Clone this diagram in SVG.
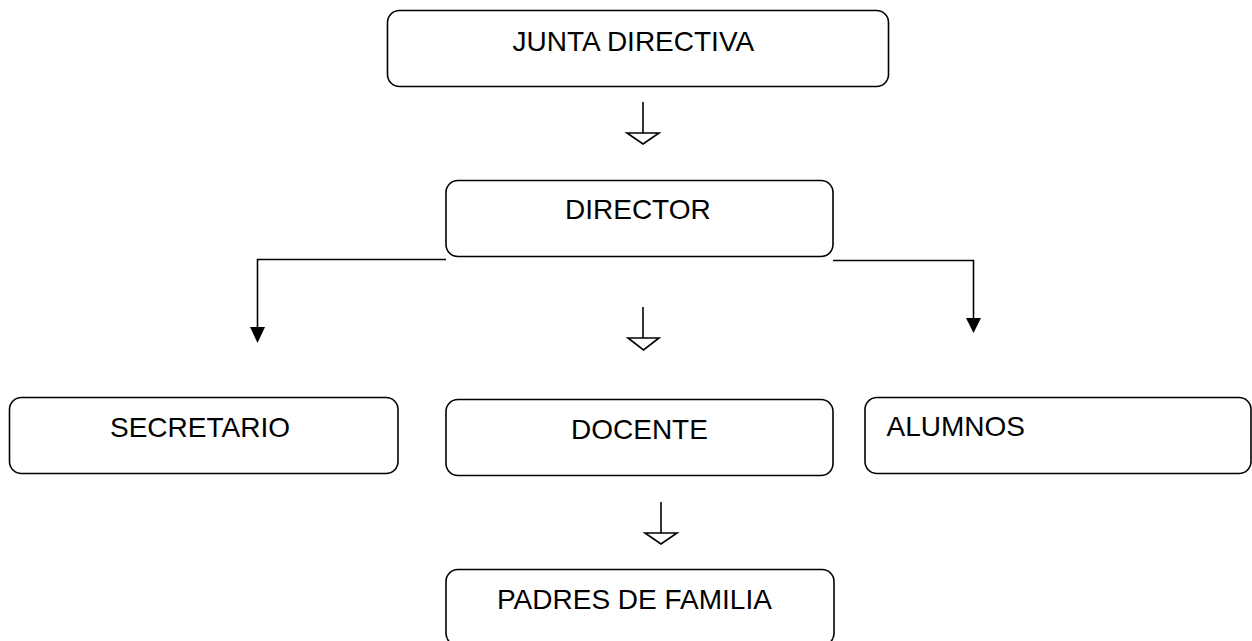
<svg xmlns="http://www.w3.org/2000/svg" width="1252" height="641" viewBox="0 0 1252 641">
<style>
.box{fill:#fff;stroke:#000;stroke-width:1.6}
.lbl{font-family:"Liberation Sans",Arial,sans-serif;font-size:28px;fill:#000}
.ln{fill:none;stroke:#000;stroke-width:1.6}
.open{fill:#fff;stroke:#000;stroke-width:1.6;stroke-linejoin:miter}
.solid{fill:#000;stroke:none}
</style>
<rect width="1252" height="641" fill="#fff"/>
<g id="connectors">
<line class="ln" x1="643" y1="102" x2="643" y2="133"/>
<polygon class="open" points="627,133 659,133 643,144"/>
<line class="ln" x1="643" y1="307" x2="643" y2="338"/>
<polygon class="open" points="628,338 659,338 643.5,350"/>
<line class="ln" x1="661" y1="502" x2="661" y2="533"/>
<polygon class="open" points="645,533 677,533 661,544"/>
<polyline class="ln" points="446,259.5 257.5,259.5 257.5,328"/>
<polygon class="solid" points="250,327 265,327 257.5,343"/>
<polyline class="ln" points="833,260.5 973.5,260.5 973.5,319"/>
<polygon class="solid" points="966,318 981,318 973.5,333"/>
</g>
<g id="junta">
<rect class="box" x="387.5" y="10.5" width="501" height="76" rx="12"/>
<text class="lbl" x="512.5" y="50.5">JUNTA DIRECTIVA</text>
</g>
<g id="director">
<rect class="box" x="446" y="180.5" width="387" height="76" rx="12"/>
<text class="lbl" x="565" y="218.5">DIRECTOR</text>
</g>
<g id="secretario">
<rect class="box" x="9.5" y="397.5" width="388.5" height="76" rx="12"/>
<text class="lbl" x="110" y="436.5">SECRETARIO</text>
</g>
<g id="docente">
<rect class="box" x="446" y="399.5" width="387" height="76" rx="12"/>
<text class="lbl" x="571" y="438.5">DOCENTE</text>
</g>
<g id="alumnos">
<rect class="box" x="865" y="397.5" width="386" height="76" rx="12"/>
<text class="lbl" x="886.5" y="436">ALUMNOS</text>
</g>
<g id="padres">
<rect class="box" x="446" y="569.5" width="388" height="76" rx="12"/>
<text class="lbl" x="497" y="608.5">PADRES DE FAMILIA</text>
</g>
</svg>
